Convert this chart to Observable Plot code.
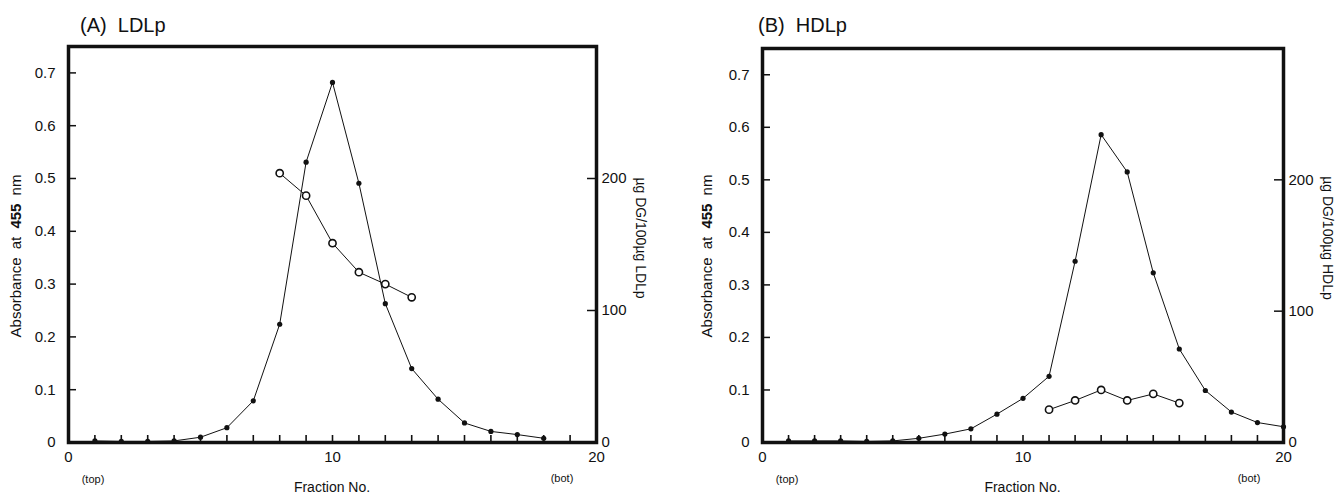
<!DOCTYPE html>
<html><head><meta charset="utf-8">
<script src="https://cdn.jsdelivr.net/npm/d3@7"></script>
<script src="https://cdn.jsdelivr.net/npm/@observablehq/plot@0.6"></script>
<style>
html,body{margin:0;padding:0;background:#fff;}
#wrap{position:relative;width:1336px;height:495px;overflow:hidden;font-family:"Liberation Sans",Arial,sans-serif;color:#111;}
.panel{position:absolute;top:0;width:668px;height:495px;}
.title{position:absolute;top:13px;font-size:20px;white-space:pre;color:#111;line-height:24px;}
</style></head><body><div id="wrap"></div>
<script>
// ---- data ----
const ldlFractions = [1,2,3,4,5,6,7,8,9,10,11,12,13,14,15,16,17,18];
const ldlAbsorbance = [0.003,0.002,0.002,0.003,0.010,0.028,0.079,0.224,0.531,0.682,0.491,0.263,0.140,0.082,0.037,0.021,0.015,0.008];
const ldlDgFractions = [8,9,10,11,12,13];
const ldlDg = [204,187,151,129,120,110];

const hdlFractions = [1,2,3,4,5,6,7,8,9,10,11,12,13,14,15,16,17,18,19,20];
const hdlAbsorbance = [0.003,0.003,0.003,0.002,0.003,0.008,0.016,0.026,0.054,0.084,0.126,0.345,0.586,0.515,0.323,0.178,0.099,0.058,0.038,0.030];
const hdlDgFractions = [11,12,13,14,15,16];
const hdlDg = [25,32,40,32,37,30];

const yTicks = [0,0.1,0.2,0.3,0.4,0.5,0.6,0.7];
const rightTicks = [0,100,200];
const xMinorTicks = [0,1,2,3,4,5,6,7,8,9,10,11,12,13,14,15,16,17,18,19,20];
const xLabelTicks = [0,10,20];
const DG_PER_ABS = 400; // right-axis units per absorbance unit

const FONT = '"Liberation Sans", Arial, sans-serif';

function panel(opts) {
  const absData = opts.absF.map((f, i) => ({f, v: opts.absV[i]}));
  const dgData = opts.dgF.map((f, i) => ({f, v: opts.dgV[i] / DG_PER_ABS}));
  const plot = Plot.plot({
    width: 668, height: 495,
    marginLeft: opts.mL, marginRight: opts.mR, marginTop: opts.mT, marginBottom: 53,
    style: {fontFamily: FONT, fontSize: "15px", color: "#111", background: "#fff", overflow: "visible"},
    x: {domain: [0, 20]},
    y: {domain: [0, 0.75]},
    marks: [
      Plot.axisX({ticks: xMinorTicks, tickSize: -7, tickFormat: () => "", label: null, strokeWidth: 1.6}),
      Plot.axisX({ticks: xLabelTicks, tickSize: 0, tickPadding: 9, label: null}),
      Plot.axisY({ticks: yTicks, tickSize: -8, tickPadding: 21, strokeWidth: 1.5,
        tickFormat: d => d === 0 ? "0" : d.toFixed(1), label: null}),
      Plot.axisY({anchor: "right", ticks: rightTicks.map(t => t / DG_PER_ABS), tickSize: -10, tickPadding: 15,
        strokeWidth: 1.5, tickFormat: d => String(Math.round(d * DG_PER_ABS)), label: null}),
      Plot.frame({stroke: "#111", strokeWidth: 3.5}),
      Plot.line(absData, {x: "f", y: "v", stroke: "#111", strokeWidth: 1}),
      Plot.dot(absData, {x: "f", y: "v", r: 2.6, fill: "#111"}),
      Plot.line(dgData, {x: "f", y: "v", stroke: "#111", strokeWidth: 1}),
      Plot.dot(dgData, {x: "f", y: "v", r: 3.6, fill: "#fff", stroke: "#111", strokeWidth: 1.6})
    ]
  });
  const sx = plot.scale("x");
  const svg = d3.select(plot);
  const g = svg.append("g").attr("fill", "#111").attr("font-family", FONT);
  // left y label
  const yl = g.append("text")
    .attr("transform", `translate(${opts.yLabelX},256) rotate(-90)`)
    .attr("text-anchor", "middle").attr("font-size", 15).attr("word-spacing", 4);
  yl.append("tspan").text("Absorbance at ");
  yl.append("tspan").attr("font-weight", "bold").text("455");
  yl.append("tspan").text(" nm");
  // right y label
  g.append("text")
    .attr("transform", `translate(${opts.rLabelX},238) rotate(90)`)
    .attr("text-anchor", "middle").attr("font-size", 14)
    .text(opts.rightLabel);
  // x label & ends
  g.append("text").attr("x", sx.apply(10)).attr("y", 492)
    .attr("text-anchor", "middle").attr("font-size", 14).text("Fraction No.");
  g.append("text").attr("x", sx.apply(0) + 25).attr("y", 483)
    .attr("text-anchor", "middle").attr("font-size", 11).text("(top)");
  g.append("text").attr("x", sx.apply(20) - 34).attr("y", 482)
    .attr("text-anchor", "middle").attr("font-size", 11).text("(bot)");

  const div = document.createElement("div");
  div.className = "panel";
  div.style.left = opts.left + "px";
  div.appendChild(plot);
  const t = document.createElement("div");
  t.className = "title";
  t.style.left = opts.titleX + "px";
  t.textContent = opts.title;
  div.appendChild(t);
  document.getElementById("wrap").appendChild(div);
}

panel({title: "(A)  LDLp", titleX: 80, left: 0, mL: 68, mR: 72, mT: 46,
  absF: ldlFractions, absV: ldlAbsorbance, dgF: ldlDgFractions, dgV: ldlDg,
  rightLabel: "\u00b5g DG/100\u00b5g LDLp", yLabelX: 21, rLabelX: 636});
panel({title: "(B)  HDLp", titleX: 90, left: 668, mL: 94, mR: 53, mT: 48,
  absF: hdlFractions, absV: hdlAbsorbance, dgF: hdlDgFractions, dgV: hdlDg,
  rightLabel: "\u00b5g DG/100\u00b5g HDLp", yLabelX: 44, rLabelX: 655});
</script></body></html>
